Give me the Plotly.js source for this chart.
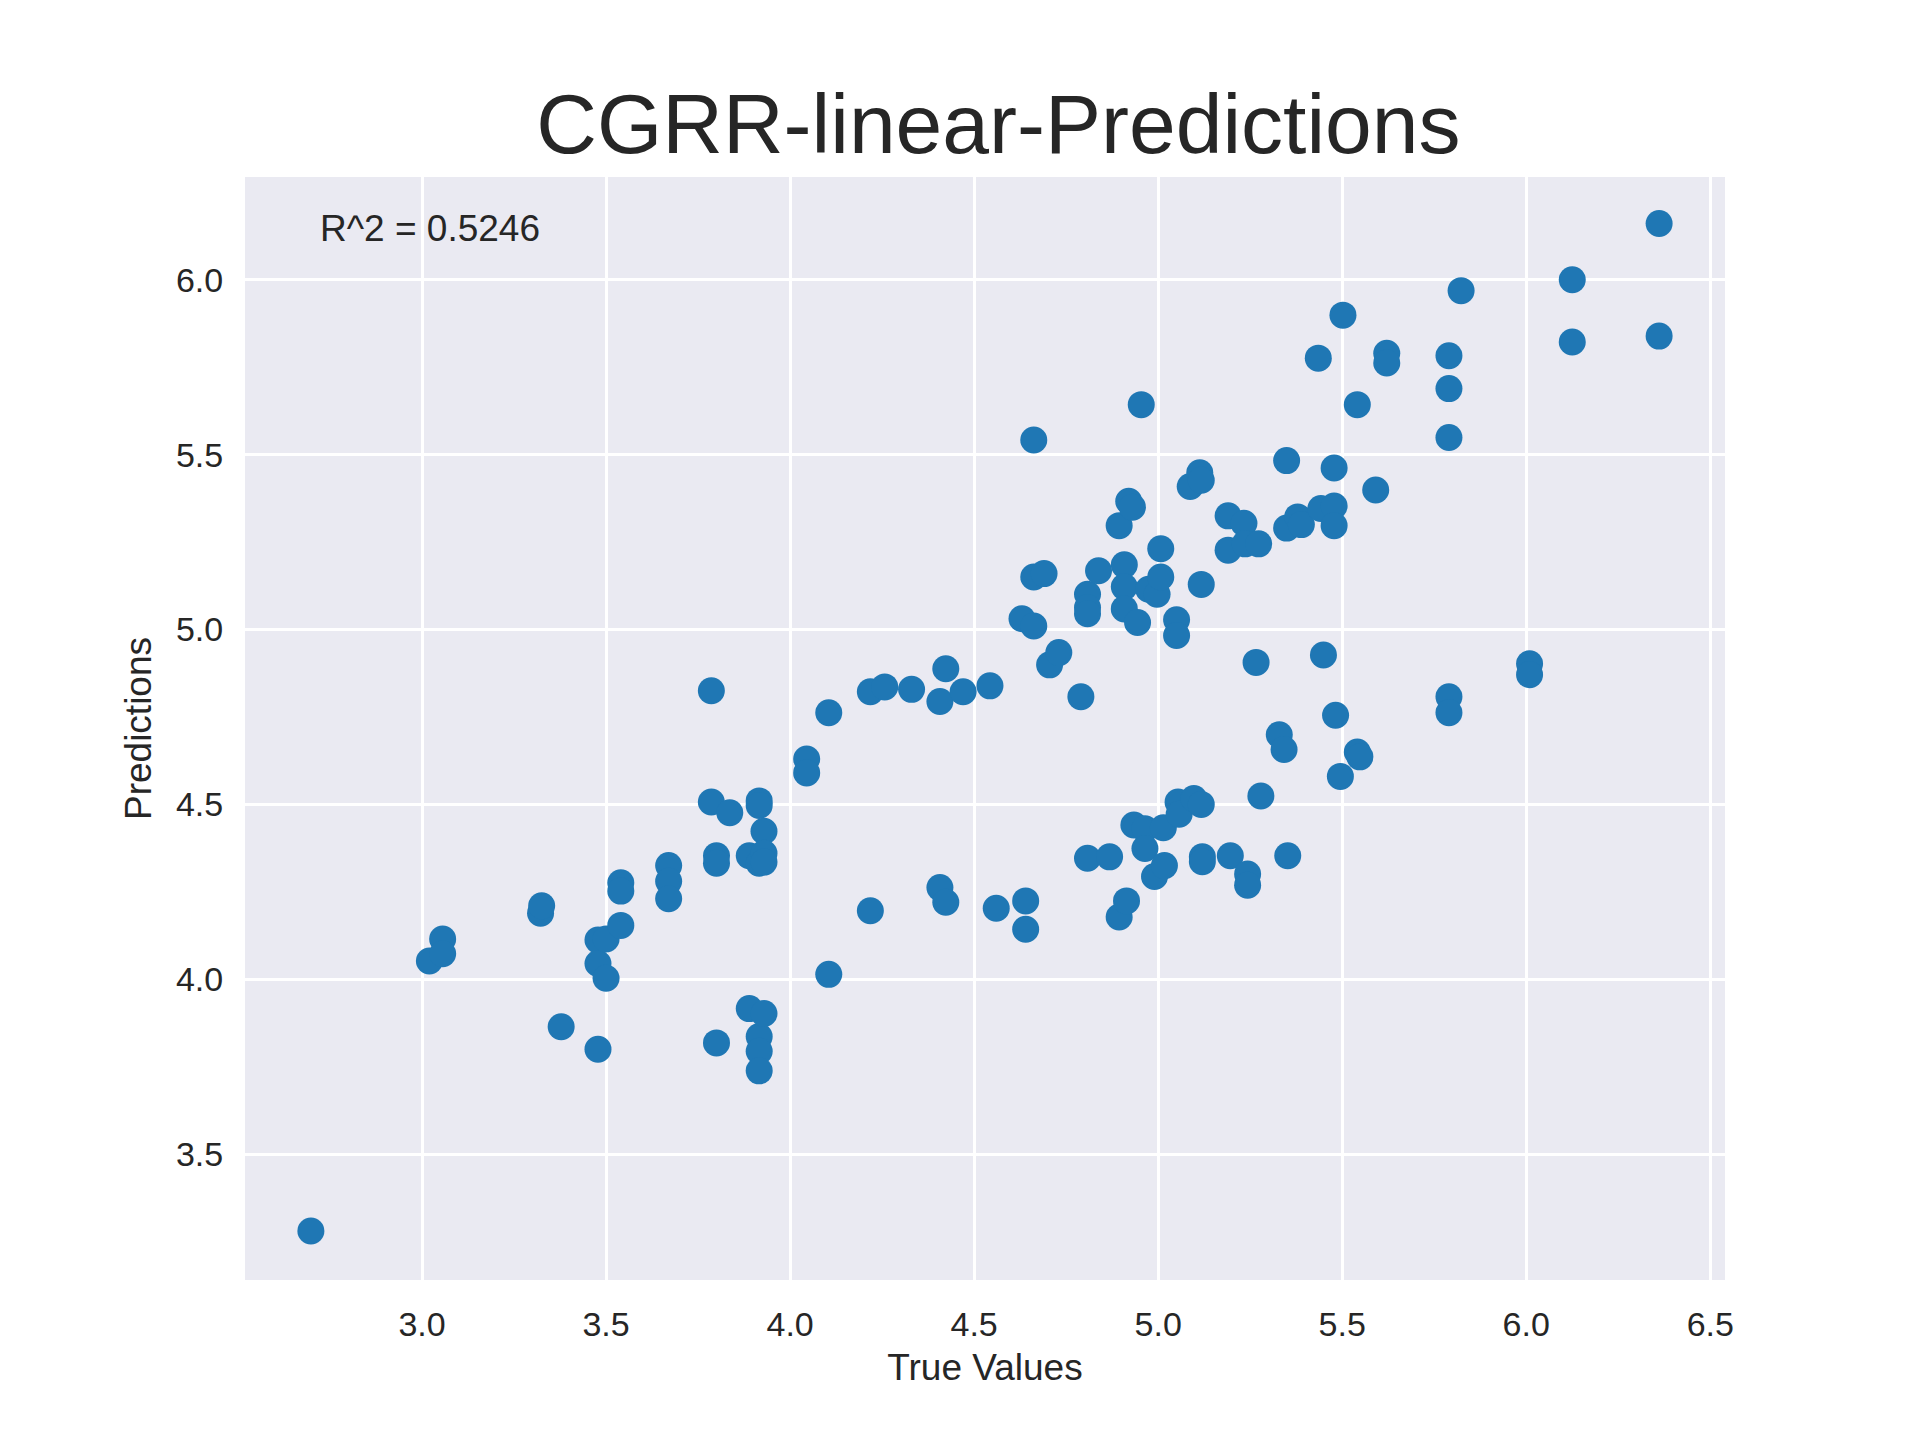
<!DOCTYPE html>
<html>
<head>
<meta charset="utf-8">
<script src="https://cdn.plot.ly/plotly-3.0.1.min.js"></script>
<style>body{margin:0;background:#fff}</style>
</head>
<body>
<div id="chart" style="width:1920px;height:1440px"></div>
<script>
// values
const trueValues = [2.698,3.02,3.056,3.056,3.322,3.325,3.378,3.478,3.478,3.478,3.50,3.50,3.54,3.54,3.54,3.67,3.67,3.67,
  3.786,3.786,3.80,3.80,3.80,3.836,3.889,3.889,3.916,3.916,3.916,3.916,3.916,3.916,3.929,3.929,3.929,3.929,
  4.045,4.045,4.105,4.105,4.218,4.257,4.33,4.407,4.407,4.423,4.423,4.47,4.543,4.56,4.218,4.63,4.64,4.64,
  4.662,4.662,4.662,4.69,4.705,4.73,4.79,4.808,4.808,4.808,4.808,4.838,4.868,4.894,4.894,4.908,4.908,4.908,
  4.914,4.92,4.93,4.934,4.944,4.954,4.964,4.964,4.974,4.99,4.997,5.007,5.007,5.014,5.017,5.05,5.05,5.054,
  5.057,5.087,5.097,5.113,5.117,5.117,5.117,5.12,5.12,5.19,5.19,5.196,5.233,5.236,5.243,5.243,5.273,5.266,
  5.279,5.329,5.342,5.349,5.349,5.352,5.379,5.389,5.435,5.442,5.449,5.478,5.478,5.478,5.482,5.495,5.502,
  5.541,5.541,5.548,5.591,5.621,5.621,5.79,5.79,5.79,5.79,5.79,5.823,6.009,6.009,6.125,6.125,6.361,6.361];
const predictions = [3.280,4.052,4.115,4.073,4.189,4.21,3.864,4.112,4.045,3.80,4.115,4.003,4.276,4.252,4.154,4.325,4.28,4.23,
  4.825,4.507,4.353,4.332,3.818,4.476,3.916,4.353,4.51,4.497,4.332,3.836,3.794,3.738,4.423,4.36,4.335,3.902,
  4.63,4.59,4.762,4.014,4.822,4.836,4.829,4.794,4.262,4.888,4.22,4.822,4.839,4.203,4.196,5.031,4.224,4.143,
  5.542,5.15,5.01,5.16,4.899,4.934,4.808,5.101,5.063,5.045,4.346,5.168,4.35,5.297,4.178,5.185,5.122,5.059,
  4.224,5.367,5.35,4.441,5.02,5.643,4.43,4.374,5.115,4.294,5.101,5.231,5.15,4.433,4.325,5.028,4.983,4.507,
  4.472,5.409,4.517,5.448,5.427,5.129,4.50,4.35,4.336,5.325,5.227,4.353,5.304,5.245,4.301,4.269,5.245,4.906,
  4.524,4.699,4.657,5.483,5.29,4.353,5.322,5.30,5.776,5.346,4.927,5.462,5.353,5.297,4.755,4.58,5.899,
  5.643,4.65,4.636,5.399,5.79,5.762,5.783,5.689,5.549,4.808,4.762,5.969,4.902,4.871,6.0,5.822,6.161,5.839];
const r2Text = 'R^2 = 0.5246';

const trace = {
  x: trueValues, y: predictions, type: 'scatter', mode: 'markers',
  marker: {color: '#1f77b4', size: 27}
};

const axisStyle = {
  showgrid: true, gridcolor: '#ffffff', gridwidth: 2.5, zeroline: false, showline: false,
  ticks: 'outside', ticklen: 14, tickcolor: 'rgba(0,0,0,0)', dtick: 0.5, tick0: 0,
  tickformat: '.1f', tickfont: {size: 34, color: '#262626'}
};

const layout = {
  font: {family: 'Liberation Sans, Arial, sans-serif', color: '#262626'},
  paper_bgcolor: '#ffffff', plot_bgcolor: '#eaeaf2',
  margin: {l: 245, r: 195, t: 177, b: 160},
  showlegend: false,
  title: {text: 'CGRR-linear-Predictions', font: {size: 84, color: '#262626'},
    x: 0.52, xanchor: 'center', y: 0.914, yanchor: 'middle'},
  xaxis: Object.assign({}, axisStyle, {range: [2.519, 6.54],
    title: {text: 'True Values', font: {size: 37}, standoff: 12}}),
  yaxis: Object.assign({}, axisStyle, {range: [3.14, 6.294],
    title: {text: 'Predictions', font: {size: 37}, standoff: 12}}),
  annotations: [{text: r2Text, xref: 'paper', yref: 'paper', x: 0.049, y: 0.953,
    xanchor: 'left', yanchor: 'middle', showarrow: false, font: {size: 37, color: '#262626'}}]
};

Plotly.newPlot('chart', [trace], layout, {displayModeBar: false});
</script>
</body>
</html>
